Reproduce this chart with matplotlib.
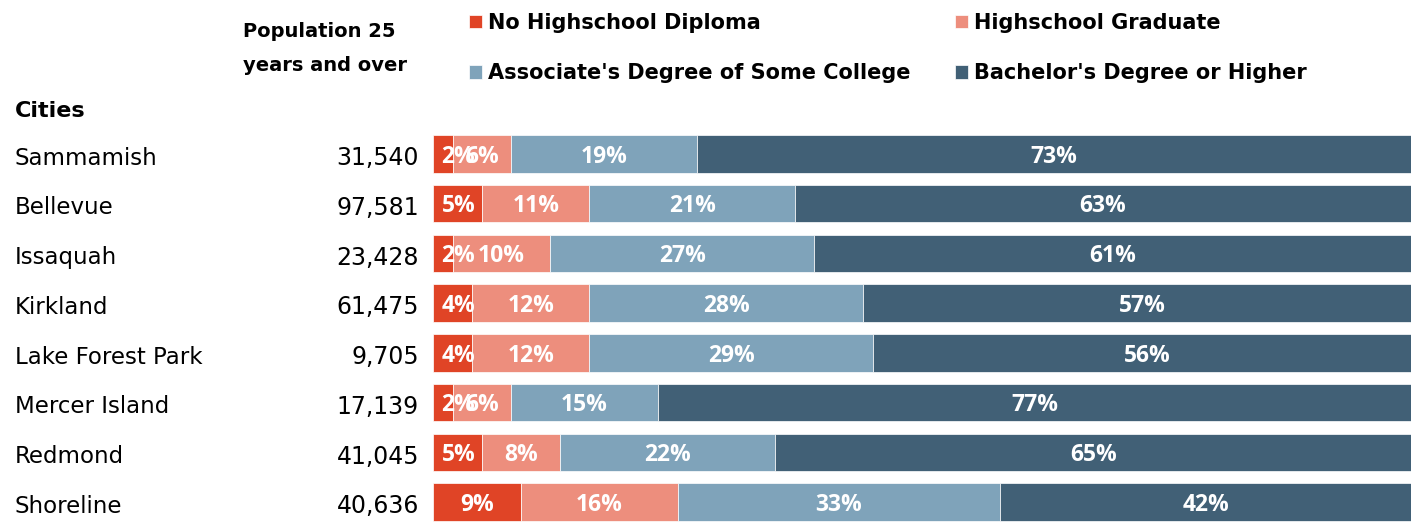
import matplotlib.pyplot as plt
import numpy as np

cities = ["Sammamish", "Bellevue", "Issaquah", "Kirkland", "Lake Forest Park",
          "Mercer Island", "Redmond", "Shoreline"]
population = [31540, 97581, 23428, 61475, 9705, 17139, 41045, 40636]

no_diploma = [2, 5, 2, 4, 4, 2, 5, 9]
hs_grad = [6, 11, 10, 12, 12, 6, 8, 16]
some_college = [19, 21, 27, 28, 29, 15, 22, 33]
bachelors = [73, 63, 61, 57, 56, 77, 65, 42]

series = [no_diploma, hs_grad, some_college, bachelors]
names = ["No Highschool Diploma", "Highschool Graduate",
         "Associate's Degree of Some College", "Bachelor's Degree or Higher"]
colors = ["#E04426", "#ED8E7D", "#7FA3BA", "#416076"]

W, H = 1418, 522
fig = plt.figure(figsize=(W / 100, H / 100), dpi=100)
ax = fig.add_axes([433 / W, 0, (1411 - 433) / W, 393 / H])

y = np.arange(len(cities))
left = np.zeros(len(cities))
bars = []
for vals, name, c in zip(series, names, colors):
    b = ax.barh(y, vals, left=left, height=0.75, color=c, label=name,
                edgecolor="white", linewidth=0.5)
    bars.append(b)
    for i, v in enumerate(vals):
        cx = left[i] + v / 2
        if left[i] == 0:
            cx = max(cx, 2.6)  # keep small first labels inside the plot
        ax.annotate(f"{v}%", xy=(cx, i), xytext=(0, -2), textcoords="offset points",
                    ha="center", va="center", color="white",
                    fontsize=16.5, fontweight="bold", family="Open Sans")
    left += vals

ax.set_xlim(0, 100)
ax.set_ylim(7.40, -0.5)
ax.axis("off")

# city names and population column
for i, (city, pop) in enumerate(zip(cities, population)):
    ax.annotate(city, xy=(15 / W, i), xycoords=("figure fraction", "data"),
                xytext=(0, -3), textcoords="offset points",
                ha="left", va="center", fontsize=16.5, family="DejaVu Sans")
    ax.annotate(f"{pop:,}", xy=(419 / W, i), xycoords=("figure fraction", "data"),
                xytext=(0, -3), textcoords="offset points",
                ha="right", va="center", fontsize=17, family="DejaVu Sans")

fig.text(15 / W, 1 - 117 / H, "Cities", fontsize=16, fontweight="bold",
         ha="left", va="baseline")
fig.text(243 / W, 1 - 37 / H, "Population 25", fontsize=14, fontweight="bold",
         ha="left", va="baseline")
fig.text(243 / W, 1 - 71 / H, "years and over", fontsize=14, fontweight="bold",
         ha="left", va="baseline")

handles = [bars[0], bars[2], bars[1], bars[3]]
fig.legend(handles, [h.get_label() for h in handles], ncol=2,
           loc="upper left", bbox_to_anchor=(469 / W, 1 - 13 / H),
           frameon=False, borderpad=0, borderaxespad=0,
           handlelength=0.62, handleheight=0.62, handletextpad=0.3,
           labelspacing=1.45, columnspacing=2.12,
           prop={"size": 15, "weight": "bold"})

fig.savefig("out.png", dpi=100)
